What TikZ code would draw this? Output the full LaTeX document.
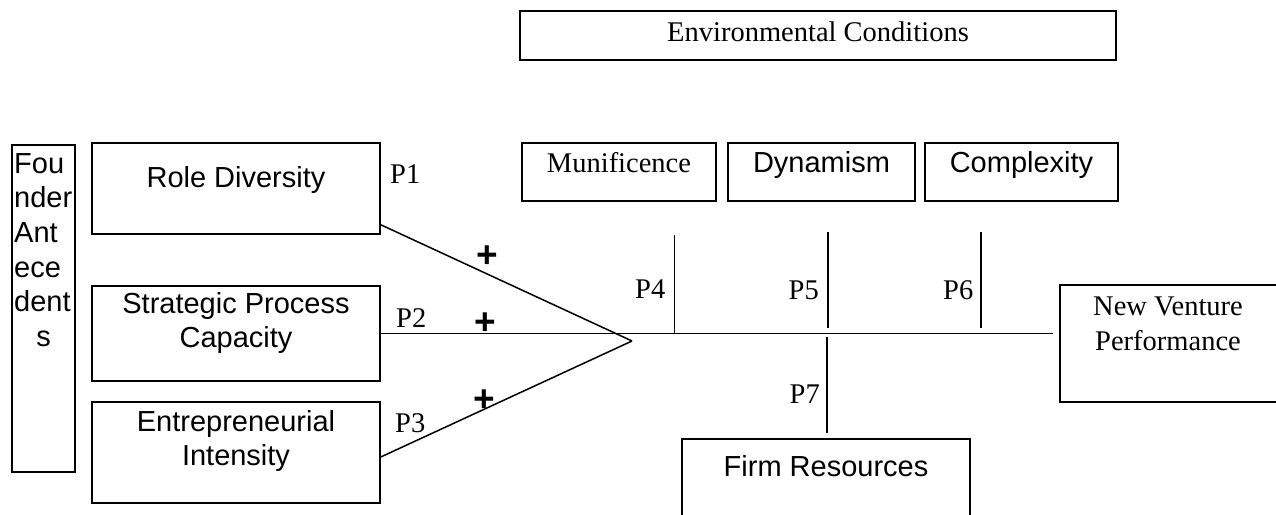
\documentclass[tikz,border=0pt]{standalone}
\usepackage{fontspec}
\setmainfont{Liberation Serif}
\setsansfont{Liberation Sans}
\begin{document}
\begin{tikzpicture}[x=1pt,y=-1pt,
  box/.style={draw, line width=1.5pt, inner sep=0pt},
  sanstxt/.style={font=\sffamily\fontsize{29}{34}\selectfont, inner sep=0pt},
  seriftxt/.style={font=\fontsize{28.5}{33}\selectfont, inner sep=0pt},
  plussign/.style={font=\sffamily\bfseries\fontsize{37}{37}\selectfont, inner sep=0pt},
  conn/.style={line width=1.5pt}]
\clip (0,0) rectangle (1276,514);
\fill[white] (0,0) rectangle (1276,514);

% boxes
\node[box, minimum width=596pt, minimum height=49pt] (env) at (818,35.5) {};
\node[box, minimum width=194pt, minimum height=58pt] (mun) at (619,172) {};
\node[box, minimum width=187pt, minimum height=58pt] (dyn) at (821.5,172) {};
\node[box, minimum width=193pt, minimum height=58pt] (cpx) at (1021.5,172) {};
\node[box, minimum width=63pt, minimum height=327pt] (fnd) at (43.5,308.5) {};
\node[box, minimum width=288pt, minimum height=91pt] (rd) at (236,188.5) {};
\node[box, minimum width=288pt, minimum height=95pt] (spc) at (236,333.5) {};
\node[box, minimum width=288pt, minimum height=101pt] (ei) at (236,452.5) {};
\node[box, minimum width=217pt, minimum height=117pt] (nvp) at (1168.5,343.5) {};
\node[box, minimum width=288pt, minimum height=91pt] (fr) at (826,484.5) {};

% box texts
\node[seriftxt, anchor=base] (envt) at (818,41) {Environmental Conditions};
\node[seriftxt, anchor=base] (munt) at (619,172) {Munificence};
\node[sanstxt, anchor=base] (dynt) at (821.5,172) {Dynamism};
\node[sanstxt, anchor=base] (cpxt) at (1021.5,172) {Complexity};
\node[sanstxt, anchor=base] (rdt) at (236,187) {Role Diversity};
\node[sanstxt, anchor=base] (spct1) at (236,313) {Strategic Process};
\node[sanstxt, anchor=base] (spct2) at (236,347) {Capacity};
\node[sanstxt, anchor=base] (eit1) at (236,431) {Entrepreneurial};
\node[sanstxt, anchor=base] (eit2) at (236,465) {Intensity};
\node[sanstxt, anchor=base west] (fndt1) at (14,173) {Fou};
\node[sanstxt, anchor=base west] (fndt2) at (14,207.7) {nder};
\node[sanstxt, anchor=base west] (fndt3) at (14,242.4) {Ant};
\node[sanstxt, anchor=base west] (fndt4) at (14,277.1) {ece};
\node[sanstxt, anchor=base west] (fndt5) at (14,311.8) {dent};
\node[sanstxt, anchor=base] (fndt6) at (43.5,346.5) {s};
\node[seriftxt, anchor=base] (nvpt1) at (1168,315) {New Venture};
\node[seriftxt, anchor=base] (nvpt2) at (1168,350) {Performance};
\node[sanstxt, anchor=base] (frt) at (826,476) {Firm Resources};

% proposition labels
\node[seriftxt, anchor=base west] (p1) at (390,183) {P1};
\node[seriftxt, anchor=base west] (p2) at (396,327) {P2};
\node[seriftxt, anchor=base west] (p3) at (395,432) {P3};
\node[seriftxt, anchor=base west] (p4) at (635,298) {P4};
\node[seriftxt, anchor=base east] (p5) at (819,299) {P5};
\node[seriftxt, anchor=base east] (p6) at (973.5,299) {P6};
\node[seriftxt, anchor=base east] (p7) at (820,403) {P7};

% plus signs
\node[plussign] (plus1) at (487,257) {+};
\node[plussign] (plus2) at (485,324) {+};
\node[plussign] (plus3) at (484,401) {+};

% coordinates
\coordinate (apex) at (632,341);
\coordinate (hend) at (1053,333.5);
\coordinate (p4top) at (674.5,235);
\coordinate (p4bot) at (674.5,333.5);
\coordinate (p5top) at (828,232);
\coordinate (p5bot) at (828,328);
\coordinate (p6top) at (981,232);
\coordinate (p6bot) at (981,328);
\coordinate (p7top) at (827,337);
\coordinate (p7bot) at (827,433);

% connectors
\draw[conn] ([yshift=10pt]rd.south east) -- (apex);
\draw[conn] (spc.east) -- (hend);
\draw[conn] ([yshift=-4.5pt]ei.east) -- (apex);
\draw[conn] (p4top) -- (p4bot);
\draw[conn] (p5top) -- (p5bot);
\draw[conn] (p6top) -- (p6bot);
\draw[conn] (p7top) -- (p7bot);
\end{tikzpicture}
\end{document}
